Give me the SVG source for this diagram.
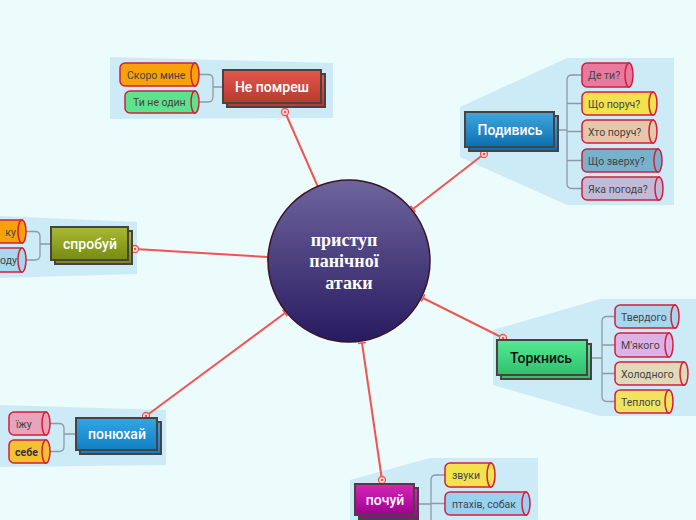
<svg xmlns="http://www.w3.org/2000/svg" width="696" height="520" viewBox="0 0 696 520">
<defs>
<style>
.panel{fill:#cdebf6}
.box{stroke:#4a4242;stroke-width:2}
.lbl{font-family:Roboto,"Noto Sans",sans-serif;font-size:14px;font-weight:500;fill:#fff;text-anchor:middle}
.cyl path,.cyl ellipse{stroke:#d21f3c;stroke-width:1.5}
.ct{font-family:Roboto,"Noto Sans",sans-serif;font-size:10.5px;fill:#444}
.br{fill:none;stroke:#8c9ca4;stroke-width:1.3}
.red{stroke:#f25353;stroke-width:2;fill:none;marker-start:url(#dot);marker-end:url(#tick)}
.ctr{font-family:"Liberation Serif",serif;font-size:18px;font-weight:bold;fill:#fff;text-anchor:middle}
</style>
<linearGradient id="gC" x1="0" y1="0" x2="0" y2="1"><stop offset="0" stop-color="#6e659d"/><stop offset="1" stop-color="#281a60"/></linearGradient>
<linearGradient id="gR" x1="0" y1="0" x2="0" y2="1"><stop offset="0" stop-color="#e5574c"/><stop offset="1" stop-color="#b63a30"/></linearGradient>
<linearGradient id="gB" x1="0" y1="0" x2="0" y2="1"><stop offset="0" stop-color="#43a6dc"/><stop offset="1" stop-color="#0a70b0"/></linearGradient>
<linearGradient id="gO" x1="0" y1="0" x2="0" y2="1"><stop offset="0" stop-color="#a9ba33"/><stop offset="1" stop-color="#778a12"/></linearGradient>
<linearGradient id="gB2" x1="0" y1="0" x2="0" y2="1"><stop offset="0" stop-color="#33a6e6"/><stop offset="1" stop-color="#1080c2"/></linearGradient>
<linearGradient id="gM" x1="0" y1="0" x2="0" y2="1"><stop offset="0" stop-color="#d626b6"/><stop offset="1" stop-color="#a0008f"/></linearGradient>
<linearGradient id="gG" x1="0" y1="0" x2="0" y2="1"><stop offset="0" stop-color="#56ea94"/><stop offset="1" stop-color="#2fbf6e"/></linearGradient>
<marker id="dot" viewBox="-5 -5 10 10" refX="0" refY="0" markerWidth="10" markerHeight="10" markerUnits="userSpaceOnUse"><circle r="3.5" fill="#fde0e0" stroke="#f25353" stroke-width="1.3"/><circle r="1.3" fill="#f25353"/></marker>
<marker id="tick" viewBox="-5 -5 10 10" refX="0" refY="0" markerWidth="10" markerHeight="10" orient="auto" markerUnits="userSpaceOnUse"><path d="M0,-4V4" stroke="#f25353" stroke-width="1.6"/></marker>
</defs>
<rect width="696" height="520" fill="#ecfbfb"/>

<g id="panels">
<polygon class="panel" points="110,57 333,63 333,118 110,119"/>
<polygon class="panel" points="460,107 567,58 674,58 674,205 567,205 460,157"/>
<polygon class="panel" points="0,216 137,222 137,274 0,278"/>
<polygon class="panel" points="0,405 166,410 166,465 0,467"/>
<polygon class="panel" points="350,480 430,458 538,458 538,520 350,520"/>
<polygon class="panel" points="493,330 600,299 696,299 696,416 600,416 493,385"/>
</g>

<g id="connectors">
<line class="red" x1="285" y1="112" x2="318" y2="187"/>
<line class="red" x1="484" y1="154" x2="413" y2="209"/>
<line class="red" x1="135" y1="249" x2="268" y2="257"/>
<line class="red" x1="146" y1="416" x2="285" y2="313"/>
<line class="red" x1="382" y1="480" x2="362" y2="343"/>
<line class="red" x1="503" y1="338" x2="423" y2="298"/>
<path class="br" d="M199,74.5H208Q213,74.5 213,79.5V97Q213,102 208,102H199M213,87H224"/>
<path class="br" d="M582,75H572Q567,75 567,80V183.5Q567,188.5 572,188.5H582M567,103.5H582M567,131.5H582M567,160.5H582M558,130H567"/>
<path class="br" d="M26,231.5H35Q40,231.5 40,236.5V255Q40,260 35,260H26M40,244H51"/>
<path class="br" d="M50,423.5H59Q64,423.5 64,428.5V446.5Q64,451.5 59,451.5H50M64,434H76"/>
<path class="br" d="M445,475H436Q431,475 431,480V520M431,503.5H445M418,504H431"/>
<path class="br" d="M615,316.5H607Q602,316.5 602,321.5V396.5Q602,401.5 607,401.5H615M602,345H615M602,373.5H615M591,358H602"/>
</g>

<g id="center">
<circle cx="349" cy="261" r="81" fill="url(#gC)" stroke="#3a1528" stroke-width="1.5"/>
<text class="ctr" x="344" y="246">приступ</text>
<text class="ctr" x="344" y="267">панічної</text>
<text class="ctr" x="349" y="289">атаки</text>
</g>

<g id="n-nepomresh">
<rect class="box" x="227" y="74" width="98" height="33" fill="url(#gR)"/>
<rect class="box" x="223" y="70" width="98" height="33" fill="url(#gR)"/>
<text class="lbl" x="272" y="92">Не помреш</text>
<g class="cyl"><path d="M125,63H195V86H125A5,5 0 0 1 120,81V68A5,5 0 0 1 125,63Z" fill="#f7a20a"/><ellipse cx="195" cy="74.5" rx="4" ry="11.5" fill="#f7a20a"/></g>
<text class="ct" x="127" y="78.5">Скоро мине</text>
<g class="cyl"><path d="M130,91H195V113H130A5,5 0 0 1 125,108V96A5,5 0 0 1 130,91Z" fill="#5de38c"/><ellipse cx="195" cy="102" rx="4" ry="11" fill="#5de38c"/></g>
<text class="ct" x="133" y="106">Ти не один</text>
</g>

<g id="n-podyvys">
<rect class="box" x="469" y="116" width="89" height="35" fill="url(#gB)"/>
<rect class="box" x="465" y="112" width="89" height="35" fill="url(#gB)"/>
<text class="lbl" x="510" y="135">Подивись</text>
<g class="cyl"><path d="M587,63H629V87H587A5,5 0 0 1 582,82V68A5,5 0 0 1 587,63Z" fill="#e9799f"/><ellipse cx="629" cy="75" rx="4" ry="12" fill="#e9799f"/></g>
<text class="ct" x="588" y="79">Де ти?</text>
<g class="cyl"><path d="M587,92H653V115H587A5,5 0 0 1 582,110V97A5,5 0 0 1 587,92Z" fill="#f1e24e"/><ellipse cx="653" cy="103.5" rx="4" ry="11.5" fill="#f1e24e"/></g>
<text class="ct" x="588" y="107.5">Що поруч?</text>
<g class="cyl"><path d="M587,120H653V143H587A5,5 0 0 1 582,138V125A5,5 0 0 1 587,120Z" fill="#e7c7a9"/><ellipse cx="653" cy="131.5" rx="4" ry="11.5" fill="#e7c7a9"/></g>
<text class="ct" x="588" y="135.5">Хто поруч?</text>
<g class="cyl"><path d="M587,149H658V172H587A5,5 0 0 1 582,167V154A5,5 0 0 1 587,149Z" fill="#78b1cc"/><ellipse cx="658" cy="160.5" rx="4" ry="11.5" fill="#78b1cc"/></g>
<text class="ct" x="588" y="164.5">Що зверху?</text>
<g class="cyl"><path d="M587,177H659V200H587A5,5 0 0 1 582,195V182A5,5 0 0 1 587,177Z" fill="#c2bad9"/><ellipse cx="659" cy="188.5" rx="4" ry="11.5" fill="#c2bad9"/></g>
<text class="ct" x="588" y="192.5">Яка погода?</text>
</g>

<g id="n-sprobui">
<rect class="box" x="55" y="231" width="77" height="33" fill="url(#gO)"/>
<rect class="box" x="51" y="227" width="77" height="33" fill="url(#gO)"/>
<text class="lbl" x="90" y="249">спробуй</text>
<g class="cyl"><path d="M-10,220H22V243H-10Z" fill="#f7a20a"/><ellipse cx="22" cy="231.5" rx="4" ry="11.5" fill="#f7a20a"/></g>
<text class="ct" x="16" y="235.5" text-anchor="end">ку</text>
<g class="cyl"><path d="M-10,248H22V272H-10Z" fill="#a8d8ee"/><ellipse cx="22" cy="260" rx="4" ry="12" fill="#a8d8ee"/></g>
<text class="ct" x="17" y="264" text-anchor="end">оду</text>
</g>

<g id="n-poniukhai">
<rect class="box" x="80" y="422" width="81" height="32" fill="url(#gB2)"/>
<rect class="box" x="76" y="418" width="81" height="32" fill="url(#gB2)"/>
<text class="lbl" x="117" y="439">понюхай</text>
<g class="cyl"><path d="M14,412H46V435H14A5,5 0 0 1 9,430V417A5,5 0 0 1 14,412Z" fill="#e9a3bb"/><ellipse cx="46" cy="423.5" rx="4" ry="11.5" fill="#e9a3bb"/></g>
<text class="ct" x="16" y="427.5">їжу</text>
<g class="cyl"><path d="M14,440H46V463H14A5,5 0 0 1 9,458V445A5,5 0 0 1 14,440Z" fill="#f2c232"/><ellipse cx="46" cy="451.5" rx="4" ry="11.5" fill="#f2c232"/></g>
<text class="ct" x="15" y="455.5" font-weight="bold" style="fill:#333">себе</text>
</g>

<g id="n-pochui">
<rect class="box" x="359" y="488" width="59" height="31" fill="url(#gM)"/>
<rect class="box" x="355" y="484" width="59" height="31" fill="url(#gM)"/>
<text class="lbl" x="385" y="505">почуй</text>
<g class="cyl"><path d="M450,463H491V487H450A5,5 0 0 1 445,482V468A5,5 0 0 1 450,463Z" fill="#f1e24e"/><ellipse cx="491" cy="475" rx="4" ry="12" fill="#f1e24e"/></g>
<text class="ct" x="452" y="479">звуки</text>
<g class="cyl"><path d="M450,492H526V515H450A5,5 0 0 1 445,510V497A5,5 0 0 1 450,492Z" fill="#98d2f0"/><ellipse cx="526" cy="503.5" rx="4" ry="11.5" fill="#98d2f0"/></g>
<text class="ct" x="452" y="507.5">птахів, собак</text>
</g>

<g id="n-torknys">
<rect class="box" x="501" y="344" width="90" height="35" fill="url(#gG)"/>
<rect class="box" x="497" y="340" width="90" height="35" fill="url(#gG)"/>
<text class="lbl" x="541" y="363" style="fill:#111">Торкнись</text>
<g class="cyl"><path d="M620,305H675V328H620A5,5 0 0 1 615,323V310A5,5 0 0 1 620,305Z" fill="#a9d6ee"/><ellipse cx="675" cy="316.5" rx="4" ry="11.5" fill="#a9d6ee"/></g>
<text class="ct" x="621" y="320.5">Твердого</text>
<g class="cyl"><path d="M620,333H669V357H620A5,5 0 0 1 615,352V338A5,5 0 0 1 620,333Z" fill="#dfb2e6"/><ellipse cx="669" cy="345" rx="4" ry="12" fill="#dfb2e6"/></g>
<text class="ct" x="621" y="349">М'якого</text>
<g class="cyl"><path d="M620,362H684V385H620A5,5 0 0 1 615,380V367A5,5 0 0 1 620,362Z" fill="#e1dab9"/><ellipse cx="684" cy="373.5" rx="4" ry="11.5" fill="#e1dab9"/></g>
<text class="ct" x="621" y="377.5">Холодного</text>
<g class="cyl"><path d="M620,390H669V413H620A5,5 0 0 1 615,408V395A5,5 0 0 1 620,390Z" fill="#f1e262"/><ellipse cx="669" cy="401.5" rx="4" ry="11.5" fill="#f1e262"/></g>
<text class="ct" x="621" y="405.5">Теплого</text>
</g>
</svg>
